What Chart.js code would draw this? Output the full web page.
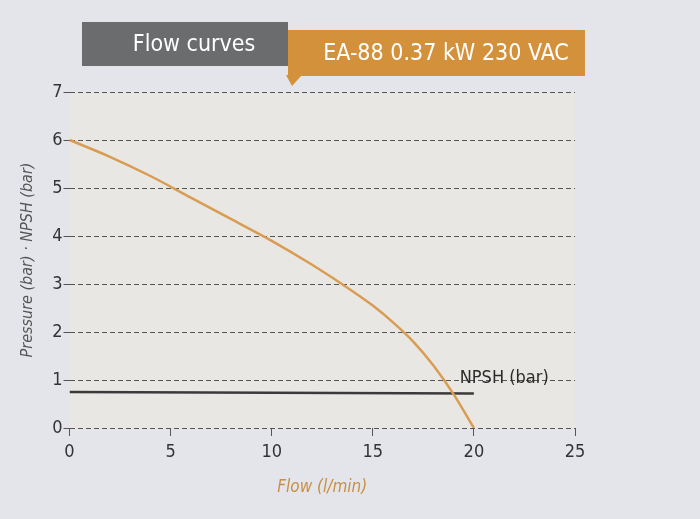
<!DOCTYPE html>
<html>
<head>
<meta charset="utf-8">
<script src="https://cdn.jsdelivr.net/npm/chart.js@4.4.1/dist/chart.umd.min.js"></script>
<style>
  html, body { margin: 0; padding: 0; background: #e3e5ea; }
  #wrap { width: 700px; height: 519px; position: relative; }
</style>
</head>
<body>
<div id="wrap"><canvas id="myChart" width="700" height="519"></canvas></div>
<script>
const flow = [0, 2, 4, 6, 8, 10, 12, 14, 15, 16, 17, 18, 19, 20];
const pressure = [6.0, 5.65, 5.25, 4.8, 4.35, 3.9, 3.4, 2.85, 2.55, 2.2, 1.8, 1.3, 0.7, 0];
const npshFlow = [0, 20];
const npsh = [0.75, 0.72];
const xTicks = [0, 5, 10, 15, 20, 25];
const yTicks = [0, 1, 2, 3, 4, 5, 6, 7];

const FONT = "'Liberation Sans Narrow', 'DejaVu Sans Condensed', 'Liberation Sans', sans-serif";

const decor = {
  id: "decor",
  beforeDraw(chart) {
    const { ctx, chartArea: a } = chart;
    ctx.save();
    ctx.fillStyle = "#e9e7e4";
    ctx.fillRect(a.left, a.top, a.right - a.left, a.bottom - a.top);
    ctx.restore();
  },
  afterDraw(chart) {
    const { ctx, scales } = chart;
    ctx.save();
    // header boxes
    ctx.fillStyle = "#6b6c6e";
    ctx.fillRect(82, 22, 206, 44);
    ctx.fillStyle = "#d4913b";
    ctx.fillRect(288, 30, 297, 46);
    ctx.beginPath();
    ctx.moveTo(286, 75);
    ctx.lineTo(302, 75);
    ctx.lineTo(292, 86);
    ctx.closePath();
    ctx.fill();
    ctx.fillStyle = "#ffffff";
    ctx.font = "23px " + FONT;
    ctx.textAlign = "center";
    ctx.textBaseline = "middle";
    ctx.fillText("Flow curves", 194, 45);
    ctx.fillText("EA-88 0.37 kW 230 VAC", 446, 54);
    // NPSH label
    ctx.fillStyle = "#2b2b2b";
    ctx.font = "18px " + FONT;
    ctx.textAlign = "left";
    ctx.textBaseline = "bottom";
    ctx.fillText("NPSH (bar)", scales.x.getPixelForValue(19.3), scales.y.getPixelForValue(0.85));
    ctx.restore();
  },
};

new Chart(document.getElementById("myChart"), {
  type: "line",
  data: {
    datasets: [
      {
        label: "Pressure (bar)",
        data: flow.map((f, i) => ({ x: f, y: pressure[i] })),
        borderColor: "#d89c52",
        borderWidth: 2.5,
        pointRadius: 0,
        cubicInterpolationMode: "monotone",
      },
      {
        label: "NPSH (bar)",
        data: npshFlow.map((f, i) => ({ x: f, y: npsh[i] })),
        borderColor: "#3a3a3a",
        borderWidth: 2.5,
        pointRadius: 0,
      },
    ],
  },
  options: {
    responsive: false,
    animation: false,
    layout: { padding: { left: 14, right: 125, top: 92, bottom: 17 } },
    plugins: {
      legend: { display: false },
      tooltip: { enabled: false },
    },
    scales: {
      x: {
        type: "linear",
        min: 0,
        max: 25,
        afterBuildTicks: (axis) => { axis.ticks = xTicks.map((v) => ({ value: v })); },
        border: { display: false },
        grid: { drawOnChartArea: false, drawTicks: true, tickLength: 8, color: "#555" },
        ticks: { color: "#333", font: { family: FONT, size: 18 }, padding: 6 },
        title: {
          display: true,
          text: "Flow (l/min)",
          color: "#c98f45",
          font: { family: FONT, size: 17, style: "italic" },
          padding: { top: 8 },
        },
      },
      y: {
        min: 0,
        max: 7,
        afterBuildTicks: (axis) => { axis.ticks = yTicks.map((v) => ({ value: v })); },
        border: { display: false, dash: [5, 3] },
        grid: { color: "#555", tickLength: 6, tickColor: "#555" },
        ticks: { color: "#333", font: { family: FONT, size: 18 }, padding: 1 },
        title: {
          display: true,
          text: "Pressure (bar) · NPSH (bar)",
          color: "#555",
          font: { family: FONT, size: 16, style: "italic" },
          padding: { bottom: 14 },
        },
      },
    },
  },
  plugins: [decor],
});
</script>
</body>
</html>
